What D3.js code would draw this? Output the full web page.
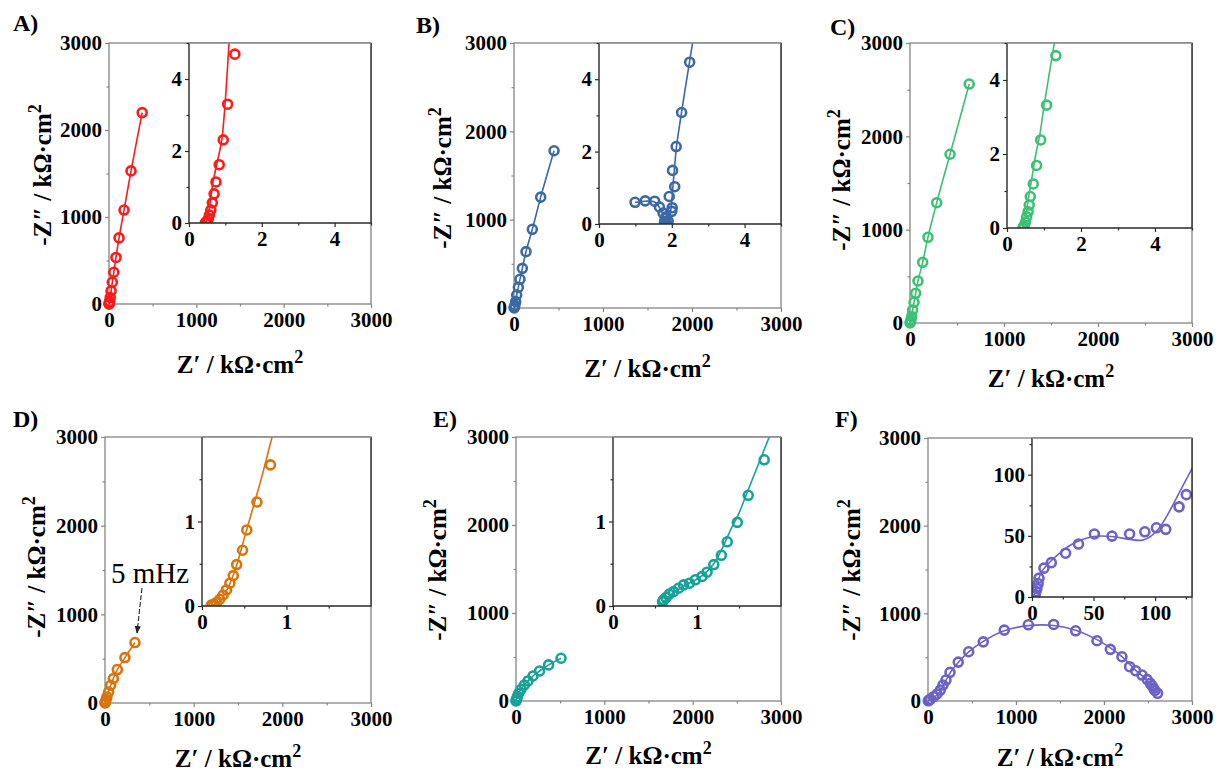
<!DOCTYPE html>
<html>
<head>
<meta charset="utf-8">
<script src="https://cdn.jsdelivr.net/npm/d3@7"></script>
<style>
  html, body { margin: 0; padding: 0; background: #fff; }
  svg text { font-family: "Liberation Serif", "Times New Roman", Times, serif; }
</style>
</head>
<body>
<svg id="chart" width="1216" height="773"></svg>
<script>
// ---- data (kΩ·cm²) ----
const aMainPts = [[380,2200],[252,1530],[172,1080],[115,760],[80,535],[55,365],[38,250],[24,150],[14,75],[7,30],[3,10],[1,2],[0.6,0.5]];
const aMainFit = [[0.5,0],[3,10],[14,75],[38,250],[80,535],[115,760],[172,1080],[252,1530],[380,2200]];
const aInsetPts = [[1.26,4.69],[1.06,3.30],[0.94,2.31],[0.83,1.62],[0.74,1.14],[0.69,0.81],[0.64,0.56],[0.60,0.36],[0.56,0.22],[0.53,0.11],[0.50,0.05],[0.47,0.02],[0.45,0.01]];
const aInsetFit = [[0.46,0],[0.50,0.1],[0.59,0.64],[0.66,1.14],[0.76,1.62],[0.90,2.31],[0.99,3.3],[1.10,5.0],[1.12,5.3]];

const bMainPts = [[450,1780],[300,1255],[206,891],[135,638],[94,449],[67,325],[49,234],[30,147],[19,72],[10,30],[4,8],[2,1]];
const bMainFit = [[1.8,0],[4,8],[10,30],[19,72],[30,147],[49,234],[67,325],[94,449],[135,638],[206,891],[300,1255],[450,1780]];
const bInsetPts = [[0.99,0.60],[1.27,0.64],[1.53,0.63],[1.66,0.47],[1.76,0.30],[1.82,0.15],[1.80,0.06],[1.86,0.02],[1.90,0.08],[1.84,0.20],[2.00,0.35],[2.01,0.45],[1.93,0.76],[2.08,1.03],[2.02,1.48],[2.12,2.14],[2.27,3.08],[2.49,4.47]];
const bInsetFit = [[0.99,0.60],[1.27,0.63],[1.53,0.61],[1.66,0.46],[1.76,0.25],[1.82,0.08],[1.87,0.03],[1.93,0.15],[1.98,0.45],[2.02,0.9],[2.07,1.5],[2.13,2.14],[2.27,3.1],[2.49,4.5],[2.57,5.0],[2.6,5.2]];

const cMainPts = [[630,2560],[426,1808],[284,1289],[191,918],[135,650],[85,450],[60,318],[43,222],[28,139],[18,70],[9,30],[4,8],[1,1]];
const cMainFit = [[0.5,0],[4,8],[9,30],[18,70],[28,139],[43,222],[60,318],[85,450],[135,650],[191,918],[284,1289],[426,1808],[630,2560]];
const cInsetPts = [[1.32,4.66],[1.07,3.32],[0.91,2.38],[0.80,1.69],[0.71,1.19],[0.63,0.85],[0.60,0.62],[0.57,0.44],[0.53,0.30],[0.50,0.16],[0.46,0.05],[0.43,0.01]];
const cInsetFit = [[0.42,0],[0.5,0.3],[0.58,0.8],[0.68,1.4],[0.78,2.0],[0.9,2.6],[1.0,3.3],[1.13,4.1],[1.28,5.0],[1.31,5.2]];

const dMainPts = [[338,682],[225,512],[139,377],[94,275],[64,200],[40,124],[22,68],[12,35],[5,12],[2,3],[0.5,0.5]];
const dMainFit = [[0.1,0],[2,3],[5,12],[12,35],[22,68],[40,124],[64,200],[94,275],[139,377],[225,512],[338,682]];
const dInsetPts = [[0.81,1.67],[0.65,1.23],[0.53,0.90],[0.48,0.66],[0.41,0.49],[0.37,0.36],[0.33,0.27],[0.29,0.19],[0.25,0.13],[0.21,0.08],[0.17,0.04],[0.14,0.02],[0.11,0.01]];
const dInsetFit = [[0.10,0],[0.2,0.05],[0.3,0.2],[0.4,0.45],[0.5,0.8],[0.6,1.15],[0.7,1.5],[0.83,2.0],[0.86,2.1]];

const eMainPts = [[510,486],[369,410],[267,341],[192,284],[136,228],[94,182],[57,133],[30,88],[15,50],[7,22],[2,5],[0.6,0.5]];
const eMainFit = [[0.58,0],[2,5],[7,22],[15,50],[30,88],[57,133],[94,182],[136,228],[192,284],[267,341],[369,410],[510,486]];
const eInsetPts = [[1.80,1.73],[1.61,1.31],[1.48,0.99],[1.36,0.76],[1.29,0.60],[1.20,0.49],[1.12,0.40],[1.06,0.35],[0.98,0.31],[0.91,0.27],[0.84,0.25],[0.78,0.21],[0.72,0.17],[0.67,0.14],[0.63,0.10],[0.60,0.07],[0.59,0.05]];
const eInsetFit = [[0.58,0.03],[0.7,0.14],[0.85,0.24],[1.0,0.32],[1.1,0.39],[1.2,0.5],[1.3,0.68],[1.4,0.9],[1.5,1.1],[1.6,1.35],[1.7,1.6],[1.86,2.0],[1.9,2.1]];

const fMainPts = [[2609,88],[2580,120],[2564,145],[2545,175],[2526,202],[2489,247],[2432,296],[2360,345],[2291,391],[2204,505],[2072,589],[1920,687],[1678,801],[1428,873],[1140,869],[867,809],[628,675],[462,562],[344,444],[250,327],[204,239],[170,182],[140,125],[102,80],[64,49],[26,19],[10,8],[3,2]];
const fMainFit = [[1,0],[26,15],[64,40],[102,70],[140,115],[170,170],[204,235],[250,320],[344,440],[462,560],[628,680],[867,800],[1140,860],[1428,862],[1678,808],[1920,700],[2072,605],[2204,505],[2291,420],[2360,350],[2432,290],[2489,235],[2545,170],[2609,88]];
const fInsetPts = [[125.4,83.7],[119.5,73.7],[108.7,55.3],[101.1,56.6],[91.7,53.3],[79.3,51.5],[65.0,49.8],[50.7,51.5],[37.8,43.3],[27.3,35.8],[15.7,28.1],[9.7,23.6],[5.7,15.4],[5,11],[4,7],[3.2,4.5],[2.5,2],[2,1]];
const fInsetFit = [[1.5,0],[3,6],[5,14],[8,21],[15,29],[25,38],[35,44.5],[50,49.5],[65,49.5],[80,47],[90,46.5],[97,50],[103,56],[110,67],[120,86],[130,105],[132,109]];

const mainTicks = [0, 1000, 2000, 3000];
const mainMinor = [500, 1500, 2500];
const insetTicks5 = [0, 2, 4], insetMinor5 = [1, 3, 5];
const insetTicks2 = [0, 1], insetMinor2 = [0.5, 1.5];
const insetTicks130 = [0, 50, 100], insetMinor130 = [25, 75, 125];

// annotation in panel D (data units of main plot)
const dNoteText = "5 mHz";
const dNoteTextAt = [68, 1350];
const dArrowFrom = [417, 1295];
const dArrowTo = [361, 790];

const SERIF = '"Liberation Serif", "Times New Roman", Times, serif';

// ---- layout ----
const panels = [
  { id: "A)", color: "#ff1a1a", main: aMainPts, mainFit: aMainFit, ins: aInsetPts, insFit: aInsetFit,
    box: { l: 109, r: 371, t: 43, b: 304 }, inset: { l: 189, b: 223, max: 5, ticks: insetTicks5, minor: insetMinor5 },
    label: [13, 31], xt: 373, yt: [51, 175] },
  { id: "B)", color: "#3a69a6", main: bMainPts, mainFit: bMainFit, ins: bInsetPts, insFit: bInsetFit,
    box: { l: 514, r: 781, t: 43, b: 308 }, inset: { l: 599, b: 224, max: 5, ticks: insetTicks5, minor: insetMinor5 },
    label: [416, 33], xt: 377, yt: [451, 178] },
  { id: "C)", color: "#3cc174", main: cMainPts, mainFit: cMainFit, ins: cInsetPts, insFit: cInsetFit,
    box: { l: 910, r: 1192, t: 43, b: 323 }, inset: { l: 1007, b: 228, max: 5, ticks: insetTicks5, minor: insetMinor5 },
    label: [830, 35], xt: 387, yt: [850, 180] },
  { id: "D)", color: "#d9730d", main: dMainPts, mainFit: dMainFit, ins: dInsetPts, insFit: dInsetFit,
    box: { l: 105, r: 371, t: 437, b: 703 }, inset: { l: 202, b: 606, max: 2, ticks: insetTicks2, minor: insetMinor2 },
    label: [13, 427], xt: 767, yt: [45, 567], note: true },
  { id: "E)", color: "#17a198", main: eMainPts, mainFit: eMainFit, ins: eInsetPts, insFit: eInsetFit,
    box: { l: 516, r: 781, t: 437, b: 701 }, inset: { l: 613, b: 606, max: 2, ticks: insetTicks2, minor: insetMinor2 },
    label: [433, 427], xt: 764, yt: [446, 570] },
  { id: "F)", color: "#6c62c6", main: fMainPts, mainFit: fMainFit, ins: fInsetPts, insFit: fInsetFit,
    box: { l: 928, r: 1192, t: 438, b: 701 }, inset: { l: 1032, b: 597, max: 130, ticks: insetTicks130, minor: insetMinor130 },
    label: [835, 427], xt: 766, yt: [860, 570] }
];

const svg = d3.select("#chart");
svg.append("rect").attr("width", 1216).attr("height", 773).attr("fill", "#fff");

const defs = svg.append("defs");
defs.append("marker")
  .attr("id", "arrowHead")
  .attr("viewBox", "0 0 10 10")
  .attr("refX", 9).attr("refY", 5)
  .attr("markerWidth", 7).attr("markerHeight", 9)
  .attr("orient", "auto")
  .append("path").attr("d", "M0,1 L10,5 L0,9 Z").attr("fill", "#222");

const styleAxis = (sel, color, fontSize) => {
  sel.attr("font-family", SERIF).attr("font-size", fontSize).attr("font-weight", "bold");
  sel.select(".domain").remove();
  sel.selectAll(".tick line").attr("stroke", color).attr("stroke-width", 1.2);
  sel.selectAll(".tick text").attr("fill", "#000");
};

const drawAxes = (g, x, y, ticks, minor, color, fs) => {
  const [x0] = x.range();
  const [y0] = y.range();
  g.append("g").attr("transform", `translate(0,${y0})`)
    .call(d3.axisBottom(x).tickValues(ticks).tickSize(4).tickPadding(4).tickFormat(d3.format("d")))
    .call(s => styleAxis(s, color, fs));
  g.append("g").attr("transform", `translate(0,${y0})`)
    .call(d3.axisBottom(x).tickValues(minor).tickSize(2.5).tickFormat(""))
    .call(s => styleAxis(s, color, fs));
  g.append("g").attr("transform", `translate(${x0},0)`)
    .call(d3.axisLeft(y).tickValues(ticks).tickSize(4).tickPadding(3).tickFormat(d3.format("d")))
    .call(s => styleAxis(s, color, fs));
  g.append("g").attr("transform", `translate(${x0},0)`)
    .call(d3.axisLeft(y).tickValues(minor).tickSize(2.5).tickFormat(""))
    .call(s => styleAxis(s, color, fs));
};

const drawSeries = (g, x, y, pts, fit, color, clipId) => {
  const layer = g.append("g").attr("clip-path", `url(#${clipId})`);
  const line = d3.line().x(d => x(d[0])).y(d => y(d[1])).curve(d3.curveCatmullRom);
  layer.append("path").datum(fit)
    .attr("d", line).attr("fill", "none").attr("stroke", color).attr("stroke-width", 1.6);
  layer.selectAll("circle").data(pts).join("circle")
    .attr("cx", d => x(d[0])).attr("cy", d => y(d[1])).attr("r", 4.5)
    .attr("fill", "none").attr("stroke", color).attr("stroke-width", 2.6);
};

panels.forEach((p, i) => {
  const g = svg.append("g");
  const B = p.box;
  const x = d3.scaleLinear().domain([0, 3000]).range([B.l, B.r]);
  const y = d3.scaleLinear().domain([0, 3000]).range([B.b, B.t]);

  defs.append("clipPath").attr("id", "clipM" + i)
    .append("rect").attr("x", B.l - 6).attr("y", B.t - 6).attr("width", B.r - B.l + 12).attr("height", B.b - B.t + 12);

  // main frame
  g.append("rect").attr("x", B.l).attr("y", B.t).attr("width", B.r - B.l).attr("height", B.b - B.t)
    .attr("fill", "none").attr("stroke", "#858585").attr("stroke-width", 1.3);
  drawAxes(g, x, y, mainTicks, mainMinor, "#858585", 21);
  drawSeries(g, x, y, p.main, p.mainFit, p.color, "clipM" + i);

  // inset
  const I = p.inset;
  const xi = d3.scaleLinear().domain([0, I.max]).range([I.l, B.r]);
  const yi = d3.scaleLinear().domain([0, I.max]).range([I.b, B.t]);
  defs.append("clipPath").attr("id", "clipI" + i)
    .append("rect").attr("x", I.l).attr("y", B.t).attr("width", B.r - I.l).attr("height", I.b - B.t);
  const gi = g.append("g");
  gi.append("rect").attr("x", I.l).attr("y", B.t).attr("width", B.r - I.l).attr("height", I.b - B.t).attr("fill", "#fff");
  drawSeries(gi, xi, yi, p.ins, p.insFit, p.color, "clipI" + i);
  gi.append("path")
    .attr("d", `M${I.l},${B.t} V${I.b} H${B.r} V${B.t}`)
    .attr("fill", "none").attr("stroke", "#2a2a2a").attr("stroke-width", 1.4);
  gi.append("line").attr("x1", I.l).attr("x2", B.r).attr("y1", B.t).attr("y2", B.t)
    .attr("stroke", "#858585").attr("stroke-width", 1.3);
  drawAxes(gi, xi, yi, I.ticks, I.minor, "#2a2a2a", 21);

  // panel label
  svg.append("text").attr("x", p.label[0]).attr("y", p.label[1])
    .attr("font-family", SERIF).attr("font-weight", "bold").attr("font-size", 24).text(p.id);

  // axis titles
  const xt = svg.append("text").attr("x", (B.l + B.r) / 2).attr("y", p.xt)
    .attr("font-family", SERIF).attr("text-anchor", "middle").attr("font-weight", "bold").attr("font-size", 25);
  xt.append("tspan").text("Z\u2032 / k\u03a9\u00b7cm");
  xt.append("tspan").attr("dy", -10).attr("font-size", 18).text("2");

  const yt = svg.append("text")
    .attr("transform", `translate(${p.yt[0]},${p.yt[1]}) rotate(-90)`)
    .attr("font-family", SERIF).attr("text-anchor", "middle").attr("font-weight", "bold").attr("font-size", 25);
  yt.append("tspan").text("-Z\u2033 / k\u03a9\u00b7cm");
  yt.append("tspan").attr("dy", -10).attr("font-size", 18).text("2");

  if (p.note) {
    svg.append("text").attr("x", x(dNoteTextAt[0])).attr("y", y(dNoteTextAt[1]))
      .attr("font-family", SERIF).attr("font-size", 29).text(dNoteText);
    svg.append("line")
      .attr("x1", x(dArrowFrom[0])).attr("y1", y(dArrowFrom[1]))
      .attr("x2", x(dArrowTo[0])).attr("y2", y(dArrowTo[1]))
      .attr("stroke", "#222").attr("stroke-width", 1.1).attr("stroke-dasharray", "5,2")
      .attr("marker-end", "url(#arrowHead)");
  }
});
</script>
</body>
</html>
